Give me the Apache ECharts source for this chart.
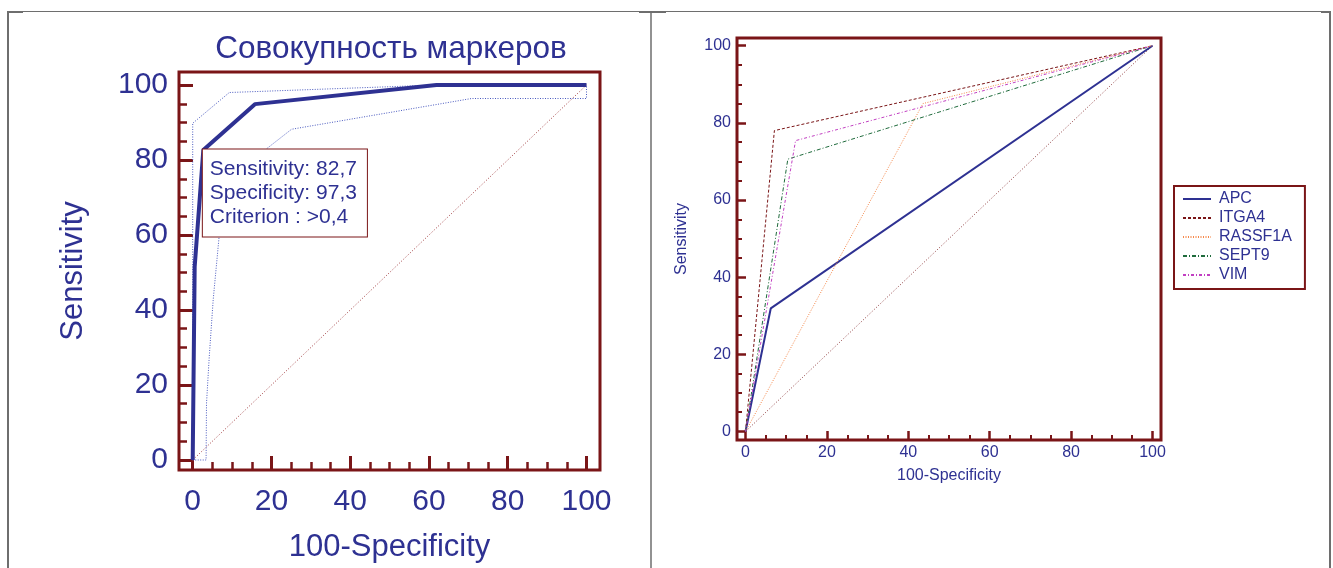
<!DOCTYPE html>
<html><head><meta charset="utf-8">
<script src="https://cdn.jsdelivr.net/npm/echarts@6/dist/echarts.min.js"></script>
<style>html,body{margin:0;padding:0;background:#fff}#c{width:1333px;height:568px}</style>
</head><body><div id="c"></div>
<script>
// ---------- data ----------
const chartTitle = 'Совокупность маркеров';
const xName = '100-Specificity';
const yName = 'Sensitivity';
const majorTicks = [0, 20, 40, 60, 80, 100];
const minorTicks = [5, 10, 15, 25, 30, 35, 45, 50, 55, 65, 70, 75, 85, 90, 95];

// left panel: combined markers ROC with 95% CI band
const rocX = [0, 0.5, 2.7, 15.8, 61.9, 100];
const rocY = [0, 51.5, 82.7, 94.9, 100, 100];
const upperX = [0, 0, 9.3, 62, 100];
const upperY = [0, 89.8, 98.0, 100, 100];
const lowerX = [0, 3.4, 3.5, 4.2, 5.2, 6.7, 18.4, 25.1, 70.8, 100, 100];
const lowerY = [0, 0, 15, 27.5, 42.7, 59.5, 82.7, 88.2, 96.4, 96.4, 100];
const cutSens = 82.7;
const cutSpec = 97.3;
const cutCrit = '>0,4';

// right panel: single markers
const markers = ['APC', 'ITGA4', 'RASSF1A', 'SEPT9', 'VIM'];
const markerX = [[0, 6.2, 100], [0, 7.1, 100], [0, 43.6, 100], [0, 10.4, 100], [0, 12.3, 100]];
const markerY = [[0, 31.9, 100], [0, 78.0, 100], [0, 85.0, 100], [0, 70.6, 100], [0, 75.4, 100]];
const diagX = [0, 100];
const diagY = [0, 100];

// ---------- styles ----------
const BLUE = '#2E3192';
const FRAME = '#7A1517';
const FONT = '"Liberation Sans", Arial, Helvetica, sans-serif';
const pts = (xs, ys) => xs.map((x, i) => [x, ys[i]]);

function axes(dim, grid, min, max, s) {
  const main = {
    type: 'value', gridIndex: grid, min, max,
    position: dim === 'x' ? 'bottom' : 'left',
    axisLine: { show: false, onZero: false }, splitLine: { show: false },
    axisTick: { show: true, inside: true, length: s.major, customValues: majorTicks,
      lineStyle: { color: FRAME, width: s.tw } },
    axisLabel: { show: true, customValues: majorTicks, color: BLUE, fontFamily: FONT,
      fontSize: s.fs, margin: s.lm },
    name: s.name, nameLocation: 'middle', nameGap: s.ng,
    nameTextStyle: { color: BLUE, fontFamily: FONT, fontSize: s.nfs }
  };
  const minor = {
    type: 'value', gridIndex: grid, min, max,
    position: dim === 'x' ? 'bottom' : 'left',
    axisLine: { show: false, onZero: false }, splitLine: { show: false }, axisLabel: { show: false },
    axisTick: { show: true, inside: true, length: s.minor, customValues: minorTicks,
      lineStyle: { color: FRAME, width: s.mw } }
  };
  return [main, minor];
}

const L = { major: 14, minor: 8, tw: 3, mw: 2.5, fs: 30, nfs: 31 };
const R = { major: 9, minor: 5, tw: 2.5, mw: 2, fs: 16, nfs: 16 };

const xAxis = [
  ...axes('x', 0, -3.48, 103.43, Object.assign({}, L, { lm: 17, ng: 62, name: xName })),
  ...axes('x', 1, -2.09, 102.09, Object.assign({}, R, { lm: 5, ng: 28, name: xName }))
];
const yAxis = [
  ...axes('y', 0, -2.67, 103.47, Object.assign({}, L, { lm: 11, ng: 90, name: yName })),
  ...axes('y', 1, -2.2, 102.0, Object.assign({}, R, { lm: 6, ng: 47, name: yName }))
];

const markerStyles = [
  { color: '#2E3192', width: 2, type: 'solid' },
  { color: '#7A1517', width: 1, type: [3, 2] },
  { color: '#F5884A', width: 1, type: [1, 1.5] },
  { color: '#1F6B3C', width: 1, type: [4, 2, 1, 2] },
  { color: '#C23FC2', width: 1, type: [3, 2, 1, 2] }
];

const series = [
  { type: 'line', xAxisIndex: 0, yAxisIndex: 0, data: pts(diagX, diagY), symbol: 'none',
    lineStyle: { color: '#A0393C', width: 1, type: [1, 2] }, silent: true },
  { type: 'line', xAxisIndex: 0, yAxisIndex: 0, data: pts(upperX, upperY), symbol: 'none',
    lineStyle: { color: '#4A5AC0', width: 1, type: [1, 1.5] }, silent: true },
  { type: 'line', xAxisIndex: 0, yAxisIndex: 0, data: pts(lowerX, lowerY), symbol: 'none',
    lineStyle: { color: '#4A5AC0', width: 1, type: [1, 1.5] }, silent: true },
  { type: 'line', xAxisIndex: 0, yAxisIndex: 0, data: pts(rocX, rocY), symbol: 'none',
    lineStyle: { color: BLUE, width: 4 }, z: 5, silent: true },
  { type: 'scatter', xAxisIndex: 0, yAxisIndex: 0, data: [[100 - cutSpec, cutSens]],
    symbolSize: 1, itemStyle: { color: 'transparent', opacity: 1 }, z: 10, silent: true,
    label: { show: true, position: [0, 0], align: 'left', verticalAlign: 'top',
      formatter: () => 'Sensitivity: ' + String(cutSens).replace('.', ',') +
        '\nSpecificity: ' + String(cutSpec).replace('.', ',') +
        '\nCriterion : ' + cutCrit,
      color: BLUE, fontFamily: FONT, fontSize: 21, lineHeight: 24, opacity: 1,
      backgroundColor: '#fff', borderColor: FRAME, borderWidth: 1,
      padding: [8, 10, 7, 7] } },
  { type: 'line', xAxisIndex: 2, yAxisIndex: 2, data: pts(diagX, diagY), symbol: 'none',
    lineStyle: { color: '#8E3A3C', width: 1, type: [1, 2] }, silent: true },
  ...markers.map((m, i) => ({
    type: 'line', name: m, xAxisIndex: 2, yAxisIndex: 2, data: pts(markerX[i], markerY[i]),
    symbol: 'none', lineStyle: markerStyles[i], itemStyle: { color: markerStyles[i].color },
    z: i === 0 ? 3 : 4, silent: true
  }))
];

const gray = '#6E6E6E';
const option = {
  animation: false,
  backgroundColor: '#fff',
  title: { text: chartTitle, left: 386, textAlign: 'center', top: 28,
    textStyle: { color: BLUE, fontFamily: FONT, fontSize: 31.5, fontWeight: 'normal' } },
  grid: [
    { left: 179, top: 72, width: 421, height: 398, show: true, borderColor: FRAME, borderWidth: 3, backgroundColor: 'transparent' },
    { left: 737, top: 38, width: 424, height: 402, show: true, borderColor: FRAME, borderWidth: 3, backgroundColor: 'transparent' }
  ],
  xAxis, yAxis,
  legend: {
    data: markers, orient: 'vertical', left: 1174, top: 186,
    padding: [5, 13, 6, 8], itemWidth: 28, itemHeight: 10, itemGap: 3,
    borderColor: FRAME, borderWidth: 2, backgroundColor: '#fff',
    itemStyle: { opacity: 0 },
    textStyle: { color: BLUE, fontFamily: FONT, fontSize: 16, padding: [0, 0, 0, 3] },
    selectedMode: false
  },
  series,
  graphic: [
    { type: 'line', shape: { x1: 7, y1: 11.5, x2: 1331, y2: 11.5 }, style: { stroke: gray, lineWidth: 1 } },
    { type: 'line', shape: { x1: 7, y1: 12, x2: 23, y2: 12 }, style: { stroke: gray, lineWidth: 2 } },
    { type: 'line', shape: { x1: 639, y1: 12, x2: 666, y2: 12 }, style: { stroke: gray, lineWidth: 2 } },
    { type: 'line', shape: { x1: 1321, y1: 12, x2: 1331, y2: 12 }, style: { stroke: gray, lineWidth: 2 } },
    { type: 'line', shape: { x1: 8, y1: 11, x2: 8, y2: 568 }, style: { stroke: gray, lineWidth: 2 } },
    { type: 'line', shape: { x1: 651, y1: 11, x2: 651, y2: 568 }, style: { stroke: gray, lineWidth: 1.5 } },
    { type: 'line', shape: { x1: 1330, y1: 11, x2: 1330, y2: 568 }, style: { stroke: gray, lineWidth: 2 } }
  ]
};

const chart = echarts.init(document.getElementById('c'), null, { renderer: 'canvas' });
chart.setOption(option);
</script>
</body></html>
